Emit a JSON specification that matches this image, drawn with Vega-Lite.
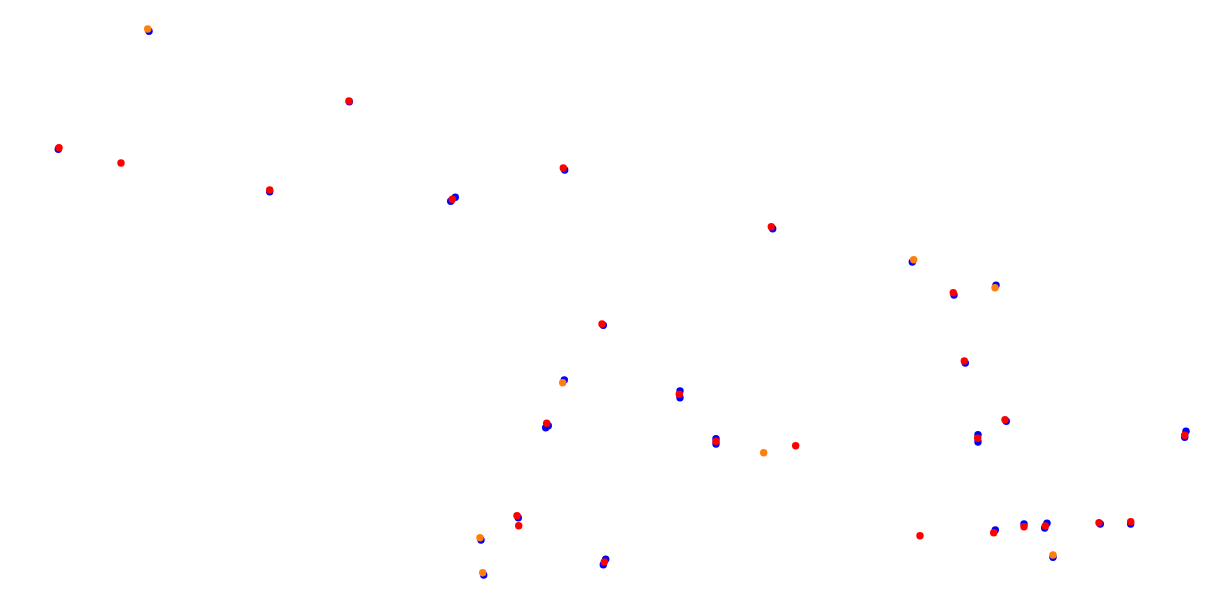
{
  "$schema": "https://vega.github.io/schema/vega-lite/v6.json",
  "autosize": {"type": "fit", "contains": "padding"},
  "width": 1228,
  "height": 603,
  "padding": 0,
  "background": "white",
  "config": {"view": {"stroke": null}},
  "data": {"values": [
    {"s": "a", "x": 149, "y": 31.3},
    {"s": "a", "x": 349.3, "y": 101.7},
    {"s": "a", "x": 58.3, "y": 149.3},
    {"s": "a", "x": 269.7, "y": 191.7},
    {"s": "a", "x": 564.7, "y": 170},
    {"s": "a", "x": 450.7, "y": 201.3},
    {"s": "a", "x": 455.3, "y": 197.3},
    {"s": "a", "x": 772.7, "y": 228.7},
    {"s": "a", "x": 912.3, "y": 262},
    {"s": "a", "x": 954, "y": 295},
    {"s": "a", "x": 996, "y": 285.3},
    {"s": "a", "x": 965.3, "y": 363},
    {"s": "a", "x": 603.3, "y": 325.3},
    {"s": "a", "x": 564.3, "y": 380},
    {"s": "a", "x": 545.7, "y": 427.7},
    {"s": "a", "x": 548.3, "y": 425.7},
    {"s": "a", "x": 680, "y": 391},
    {"s": "a", "x": 680, "y": 397.7},
    {"s": "a", "x": 716, "y": 438.7},
    {"s": "a", "x": 716, "y": 444},
    {"s": "a", "x": 1006.3, "y": 421.3},
    {"s": "a", "x": 978, "y": 434.7},
    {"s": "a", "x": 978, "y": 442},
    {"s": "a", "x": 1186, "y": 431.3},
    {"s": "a", "x": 1184.7, "y": 437.3},
    {"s": "a", "x": 995.3, "y": 530},
    {"s": "a", "x": 1024, "y": 524},
    {"s": "a", "x": 1047, "y": 523.3},
    {"s": "a", "x": 1044.7, "y": 528},
    {"s": "a", "x": 1053, "y": 557.3},
    {"s": "a", "x": 1100.3, "y": 524},
    {"s": "a", "x": 1130.7, "y": 524},
    {"s": "a", "x": 518.3, "y": 517.7},
    {"s": "a", "x": 481, "y": 540},
    {"s": "a", "x": 483.7, "y": 575},
    {"s": "a", "x": 605.7, "y": 559.3},
    {"s": "a", "x": 603.3, "y": 564.7},
    {"s": "b", "x": 147.7, "y": 29},
    {"s": "b", "x": 913.7, "y": 259.7},
    {"s": "b", "x": 995, "y": 287.7},
    {"s": "b", "x": 562.7, "y": 382.7},
    {"s": "b", "x": 763.7, "y": 452.7},
    {"s": "b", "x": 1053, "y": 555},
    {"s": "b", "x": 480, "y": 537.7},
    {"s": "b", "x": 482.7, "y": 572.7},
    {"s": "c", "x": 349, "y": 101},
    {"s": "c", "x": 59, "y": 147.7},
    {"s": "c", "x": 121, "y": 163},
    {"s": "c", "x": 269.7, "y": 190},
    {"s": "c", "x": 563.3, "y": 168},
    {"s": "c", "x": 452.3, "y": 199.3},
    {"s": "c", "x": 771.3, "y": 226.7},
    {"s": "c", "x": 953.3, "y": 292.7},
    {"s": "c", "x": 964.3, "y": 361},
    {"s": "c", "x": 602, "y": 324},
    {"s": "c", "x": 546.7, "y": 423.3},
    {"s": "c", "x": 679.3, "y": 394.3},
    {"s": "c", "x": 716, "y": 441.3},
    {"s": "c", "x": 795.7, "y": 445.7},
    {"s": "c", "x": 1005, "y": 419.7},
    {"s": "c", "x": 977.7, "y": 438.3},
    {"s": "c", "x": 1184.7, "y": 435.3},
    {"s": "c", "x": 993.7, "y": 532.7},
    {"s": "c", "x": 1024, "y": 526.7},
    {"s": "c", "x": 1045.3, "y": 526},
    {"s": "c", "x": 1099, "y": 522.7},
    {"s": "c", "x": 1130.7, "y": 521.7},
    {"s": "c", "x": 517, "y": 515.7},
    {"s": "c", "x": 518.7, "y": 525.7},
    {"s": "c", "x": 604.3, "y": 562},
    {"s": "c", "x": 920, "y": 535.7}
  ]},
  "mark": {"type": "point", "filled": true, "opacity": 1, "size": 55, "shape": "circle"},
  "encoding": {
    "x": {"field": "x", "type": "quantitative", "scale": {"domain": [0, 1228], "nice": false, "zero": false}, "axis": null},
    "y": {"field": "y", "type": "quantitative", "scale": {"domain": [0, 603], "reverse": true, "nice": false, "zero": false}, "axis": null},
    "color": {"field": "s", "type": "nominal", "scale": {"domain": ["a", "b", "c"], "range": ["#0000ff", "#ff7f0e", "#ff0000"]}, "legend": null}
  }
}
